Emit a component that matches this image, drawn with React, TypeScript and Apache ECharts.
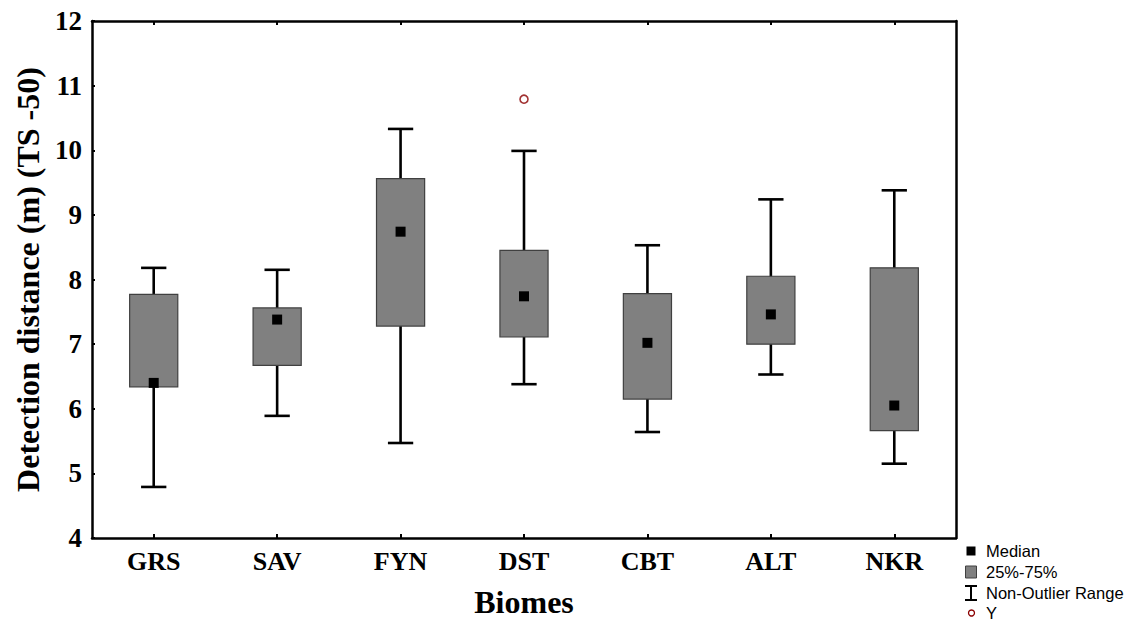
import React, { useEffect, useRef } from "react";
import * as echarts from "echarts";

const categories = ["GRS", "SAV", "FYN", "DST", "CBT", "ALT", "NKR"];
const whiskerLow = [4.79, 5.89, 5.47, 6.38, 5.64, 6.53, 5.15];
const q1 = [6.34, 6.67, 7.28, 7.11, 6.15, 7.0, 5.66];
const median = [6.4, 7.38, 8.74, 7.74, 7.02, 7.46, 6.05];
const q3 = [7.77, 7.56, 9.56, 8.45, 7.78, 8.05, 8.18];
const whiskerHigh = [8.18, 8.15, 10.33, 9.99, 8.53, 9.24, 9.38];
const outlierCategories = ["DST"];
const outlierValues = [10.79];
const yTicks = { min: 4, max: 12, interval: 1 };
const xTitle = "Biomes";
const yTitle = "Detection distance (m) (TS -50)";
const legendLabels = ["Median", "25%-75%", "Non-Outlier Range", "Y"];

const SERIF = "'Liberation Serif', 'Times New Roman', serif";
const SANS = "'Liberation Sans', Arial, sans-serif";

export default function App() {
  const ref = useRef<HTMLDivElement>(null);
  useEffect(() => {
    document.body.style.margin = "0";
    if (!ref.current) return;
    const chart = echarts.init(ref.current, undefined, { renderer: "svg" });
    const boxData = categories.map((_, i) => [
      i,
      whiskerLow[i],
      q1[i],
      median[i],
      q3[i],
      whiskerHigh[i],
    ]);
    const lx = 971;
    const ly = [551, 572, 593, 613];
    chart.setOption({
      animation: false,
      backgroundColor: "#ffffff",
      grid: { left: 92, right: 177, top: 21, bottom: 85, containLabel: false },
      xAxis: [
        {
          type: "category",
          data: categories,
          boundaryGap: true,
          position: "bottom",
          name: xTitle,
          nameLocation: "middle",
          nameGap: 48,
          nameTextStyle: { fontFamily: SERIF, fontWeight: "bold", fontSize: 32, color: "#000" },
          axisLine: { show: true, lineStyle: { color: "#000", width: 2.5 } },
          axisTick: { show: true, inside: true, length: 4, alignWithLabel: true, lineStyle: { color: "#000", width: 2 } },
          axisLabel: { fontFamily: SERIF, fontWeight: "bold", fontSize: 26, color: "#000", margin: 10 },
          splitLine: { show: false },
        },
        {
          type: "category",
          data: categories,
          boundaryGap: true,
          position: "top",
          axisLine: { show: true, lineStyle: { color: "#000", width: 2.5 } },
          axisTick: { show: true, inside: true, length: 4, alignWithLabel: true, lineStyle: { color: "#000", width: 2 } },
          axisLabel: { show: false },
          splitLine: { show: false },
        },
      ],
      yAxis: [
        {
          type: "value",
          min: yTicks.min,
          max: yTicks.max,
          interval: yTicks.interval,
          position: "left",
          name: yTitle,
          nameLocation: "middle",
          nameGap: 48,
          nameTextStyle: { fontFamily: SERIF, fontWeight: "bold", fontSize: 32, color: "#000" },
          axisLine: { show: true, lineStyle: { color: "#000", width: 2.5 } },
          axisTick: { show: true, inside: true, length: 3, lineStyle: { color: "#000", width: 2 } },
          axisLabel: { fontFamily: SERIF, fontWeight: "bold", fontSize: 27, color: "#000", margin: 10 },
          splitLine: { show: false },
        },
        {
          type: "value",
          min: yTicks.min,
          max: yTicks.max,
          interval: yTicks.interval,
          position: "right",
          axisLine: { show: true, lineStyle: { color: "#000", width: 2.5 } },
          axisTick: { show: false },
          axisLabel: { show: false },
          splitLine: { show: false },
        },
      ],
      series: [
        {
          type: "custom",
          xAxisIndex: 0,
          yAxisIndex: 0,
          data: boxData,
          encode: { x: 0, y: [1, 2, 3, 4, 5] },
          renderItem: (params: any, api: any) => {
            const idx = api.value(0);
            const pLow = api.coord([idx, api.value(1)]);
            const pQ1 = api.coord([idx, api.value(2)]);
            const pMed = api.coord([idx, api.value(3)]);
            const pQ3 = api.coord([idx, api.value(4)]);
            const pHigh = api.coord([idx, api.value(5)]);
            const band = api.size([1, 0])[0];
            const bw = band * 0.39;
            const cw = band * 0.205;
            const cx = pLow[0];
            const lineStyle = { stroke: "#000", lineWidth: 2.6 };
            const ms = 10;
            return {
              type: "group",
              children: [
                { type: "line", shape: { x1: cx, y1: pLow[1], x2: cx, y2: pHigh[1] }, style: lineStyle },
                { type: "line", shape: { x1: cx - cw / 2, y1: pLow[1], x2: cx + cw / 2, y2: pLow[1] }, style: lineStyle },
                { type: "line", shape: { x1: cx - cw / 2, y1: pHigh[1], x2: cx + cw / 2, y2: pHigh[1] }, style: lineStyle },
                {
                  type: "rect",
                  shape: { x: cx - bw / 2, y: pQ3[1], width: bw, height: pQ1[1] - pQ3[1] },
                  style: { fill: "#808080", stroke: "#404040", lineWidth: 1.2 },
                },
                {
                  type: "rect",
                  shape: { x: cx - ms / 2, y: pMed[1] - ms / 2, width: ms, height: ms },
                  style: { fill: "#000" },
                },
              ],
            };
          },
          z: 2,
        },
        {
          type: "scatter",
          xAxisIndex: 0,
          yAxisIndex: 0,
          data: outlierCategories.map((c, i) => [c, outlierValues[i]]),
          symbol: "circle",
          symbolSize: 8,
          itemStyle: { color: "#ffffff", borderColor: "#8B0000", borderWidth: 1.6 },
          z: 3,
        },
      ],
      graphic: [
        { type: "rect", shape: { x: lx - 4.5, y: ly[0] - 4.5, width: 9, height: 9 }, style: { fill: "#000" } },
        { type: "rect", shape: { x: lx - 5.5, y: ly[1] - 6, width: 11, height: 12 }, style: { fill: "#808080", stroke: "#404040", lineWidth: 1 } },
        { type: "line", shape: { x1: lx, y1: ly[2] - 7, x2: lx, y2: ly[2] + 7 }, style: { stroke: "#000", lineWidth: 2 } },
        { type: "line", shape: { x1: lx - 6, y1: ly[2] - 7, x2: lx + 6, y2: ly[2] - 7 }, style: { stroke: "#000", lineWidth: 2 } },
        { type: "line", shape: { x1: lx - 6, y1: ly[2] + 7, x2: lx + 6, y2: ly[2] + 7 }, style: { stroke: "#000", lineWidth: 2 } },
        { type: "circle", shape: { cx: lx + 0.5, cy: ly[3], r: 3 }, style: { fill: "#fff", stroke: "#8B0000", lineWidth: 1.3 } },
        ...legendLabels.map((t, i) => ({
          type: "text",
          x: 986,
          y: ly[i],
          style: { text: t, fontFamily: SANS, fontSize: 16.5, fill: "#000", textVerticalAlign: "middle", verticalAlign: "middle" },
        })),
      ],
    });
    return () => chart.dispose();
  }, []);
  return <div ref={ref} style={{ width: 1133, height: 623 }} />;
}
